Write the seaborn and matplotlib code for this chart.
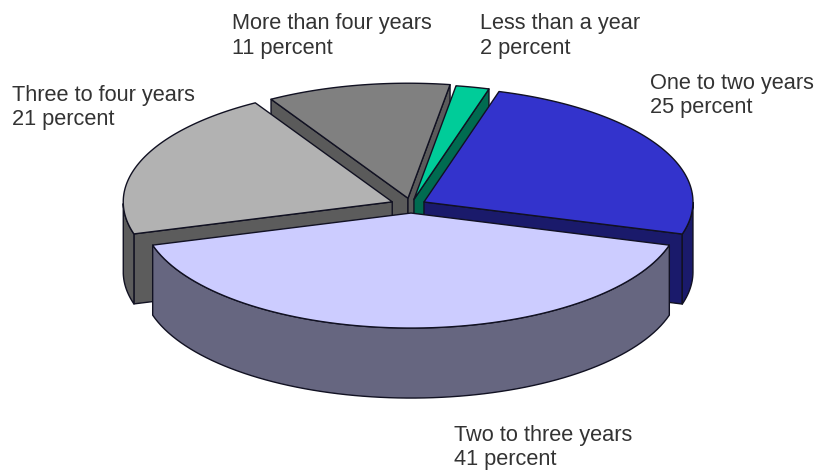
import numpy as np
import matplotlib
matplotlib.use("Agg")
import matplotlib.pyplot as plt
import seaborn as sns

sns.set_theme(style="white")
plt.rcParams['font.family'] = ['Liberation Sans', 'DejaVu Sans']

categories = ["Less than a year", "One to two years", "Two to three years",
              "Three to four years", "More than four years"]
percents = [2, 25, 41, 21, 11]
explode = [0.05, 0.055, 0.07, 0.075, 0.06]
top_colors = ["#00CC99", "#3333CC", "#CCCCFF", "#B2B2B2", "#808080"]
side_colors = ["#006B50", "#1A1A6B", "#666680", "#5C5C5C", "#5A5A5A"]
label_pos = [(480, 36), (650, 95.5), (454, 447.5), (12, 107.5), (232, 36)]
draw_order = [4, 0, 3, 1, 2]

start_angle = 9.0
cx, cy, rx, ry, depth = 411, 205, 269, 115, 70

fig = plt.figure(figsize=(8.17, 4.70), dpi=100)
ax = fig.add_axes([0, 0, 1, 1])
ax.set_xlim(0, 817)
ax.set_ylim(470, 0)
ax.axis("off")

edges = np.concatenate([[0], np.cumsum(percents)]) * 3.6 + start_angle


def pt(deg):
    r = np.radians(deg)
    return np.sin(r) * rx, -np.cos(r) * ry


def poly(x, y, color, z):
    ax.fill(x, y, facecolor=color, edgecolor="#111122", linewidth=1.0,
            joinstyle="round", zorder=z)


for z, i in enumerate(draw_order):
    a0, a1 = edges[i], edges[i + 1]
    mid = (a0 + a1) / 2
    mx, my = pt(mid)
    ox, oy = cx + mx * explode[i], cy + my * explode[i]
    th = np.linspace(a0, a1, 80)
    ex, ey = pt(th)
    ex, ey = ox + ex, oy + ey
    base = z * 10
    # radial side faces
    for a, visible in ((a0, np.sin(np.radians(a0)) < 0),
                       (a1, np.sin(np.radians(a1)) > 0)):
        if visible:
            px, py = pt(a)
            poly([ox, ox + px, ox + px, ox],
                 [oy, oy + py, oy + py + depth, oy + depth],
                 side_colors[i], base + 1)
    # outer rim, front half only
    t = th[np.cos(np.radians(th)) < 0]
    if len(t) > 1:
        rimx, rimy = pt(t)
        rimx, rimy = ox + rimx, oy + rimy
        poly(np.r_[rimx, rimx[::-1]], np.r_[rimy, rimy[::-1] + depth],
             side_colors[i], base + 2)
    # top face
    poly(np.r_[ox, ex], np.r_[oy, ey], top_colors[i], base + 3)

for name, pct, (lx, ly) in zip(categories, percents, label_pos):
    ax.text(lx, ly, f"{name}\n{pct} percent", fontsize=15.7, color="#333333",
            ha="left", va="center", linespacing=1.2, zorder=200)

fig.savefig("out.png", dpi=100)
